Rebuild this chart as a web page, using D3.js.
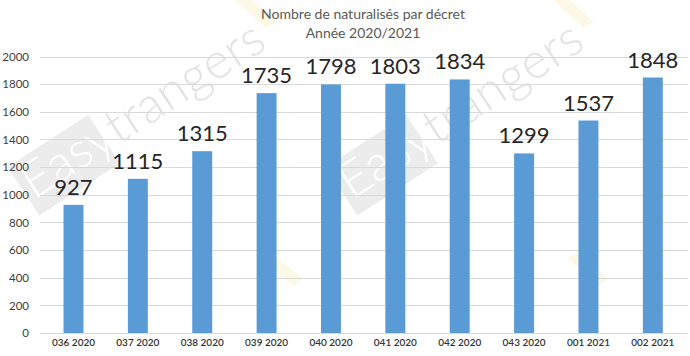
<!DOCTYPE html>
<html><head><meta charset="utf-8">
<script src="https://cdn.jsdelivr.net/npm/d3@7"></script>
<style>
html,body{margin:0;padding:0;background:#fff;}
svg{display:block;}
</style></head>
<body>
<svg id="chart" width="690" height="356"></svg>
<script>
const categories = ["036 2020","037 2020","038 2020","039 2020","040 2020","041 2020","042 2020","043 2020","001 2021","002 2021"];
const values = [927,1115,1315,1735,1798,1803,1834,1299,1537,1848];
const yTicks = [0,200,400,600,800,1000,1200,1400,1600,1800,2000];
const titleLines = ["Nombre de naturalisés par décret","Année 2020/2021"];
const watermarkWord = ["Easy","trangers"];

const svg = d3.select("#chart");
const font = "Lato, 'Open Sans', sans-serif";

// watermark (background), only the tiles that fit in the picture
const wmOrigins = [[34,200],[352,200]];
const wm = svg.append("g").attr("class","watermark");
wmOrigins.forEach(([ox,oy])=>{
  const g = wm.append("g").attr("transform",`translate(${ox},${oy}) rotate(-33)`);
  g.append("rect").attr("x",-4).attr("y",-42).attr("width",96).attr("height",58).attr("fill","#ececec");
  g.append("path").attr("d","M276,-64 L288,-64 L300,-18 L288,-18 Z").attr("fill","#fdf8e6");
  const t = g.append("text").attr("x",0).attr("y",0).attr("font-family",font)
    .attr("font-size",50).attr("font-weight",300)
    .attr("textLength",280).attr("lengthAdjust","spacing");
  t.append("tspan").attr("fill","#ffffff").text(watermarkWord[0]);
  t.append("tspan").attr("fill","#e3e3e3").text(watermarkWord[1]);
});
// bottom-row logo accents (triangles only)
[[277,272],[583,272]].forEach(([cx,cy])=>{
  svg.append("path").attr("transform",`translate(${cx},${cy}) rotate(-33)`)
    .attr("d","M-6,-20 L6,-20 L18,20 L6,20 Z").attr("fill","#fdf8e6");
});

const x = d3.scaleBand().domain(categories).range([41.3, 685]).paddingInner(0.69).paddingOuter(0.345);
const y = d3.scaleLinear().domain([0,2000]).range([333, 56.5]);

// gridlines
svg.append("g").selectAll("line").data(yTicks).join("line")
  .attr("x1",40).attr("x2",688)
  .attr("y1",d=>Math.round(y(d))+0.5).attr("y2",d=>Math.round(y(d))+0.5)
  .attr("stroke","#d9d9d9").attr("stroke-width",1);

// y axis labels
const yAxis = d3.axisLeft(y).tickValues(yTicks).tickFormat(d3.format("d")).tickSize(0).tickPadding(0);
const ya = svg.append("g").attr("transform","translate(29,0)").call(yAxis);
ya.select(".domain").remove();
ya.selectAll("text").attr("font-family",font).attr("font-size",11.5).attr("fill","#404040");

// x axis labels
const xAxis = d3.axisBottom(x).tickSize(0).tickPadding(0);
const xa = svg.append("g").attr("transform","translate(0,339)").call(xAxis);
xa.select(".domain").remove();
xa.selectAll("text").attr("font-family",font).attr("font-size",10).attr("fill","#333333").attr("font-weight",600);

// bars
svg.append("g").selectAll("rect").data(values).join("rect")
  .attr("x",(d,i)=>x(categories[i]))
  .attr("width",x.bandwidth())
  .attr("y",d=>y(d))
  .attr("height",d=>y(0)-y(d))
  .attr("fill","#5b9bd5");

// value labels
svg.append("g").selectAll("text").data(values).join("text")
  .attr("x",(d,i)=>x(categories[i])+x.bandwidth()/2)
  .attr("y",d=>y(d)-10)
  .attr("text-anchor","middle")
  .attr("font-family",font).attr("font-size",22).attr("fill","#262626")
  .text(d=>d);

// title
svg.append("g").selectAll("text").data(titleLines).join("text")
  .attr("x",363).attr("y",(d,i)=>18.5+i*19)
  .attr("text-anchor","middle")
  .attr("font-family",font).attr("font-size",14).attr("fill","#595959")
  .text(d=>d);
</script>
</body></html>
